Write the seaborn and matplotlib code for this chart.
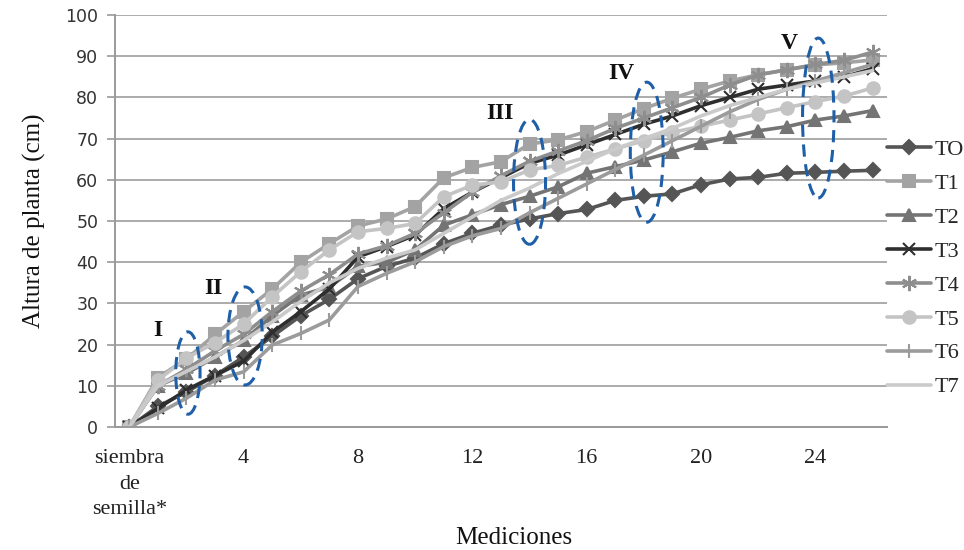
import seaborn as sns
import pandas as pd
import matplotlib
matplotlib.use('Agg')
import matplotlib.pyplot as plt
from matplotlib.patches import Ellipse

# mediciones: 0 = siembra de semilla, luego 1..26
mediciones = list(range(27))
etiquetas_x = {0: 'siembra\nde\nsemilla*', 4: '4', 8: '8', 12: '12', 16: '16', 20: '20', 24: '24'}

TO = [0, 5, 8.5, 12.5, 17, 22, 27, 31, 36, 39, 41, 44.5, 47, 49, 50.5, 51.8, 52.8, 55, 56, 56.6,
      58.8, 60.2, 60.6, 61.6, 61.8, 62.1, 62.3]
T1 = [0, 12, 16.5, 22.5, 28, 33.5, 40, 44.5, 48.8, 50.5, 53.5, 60.5, 63, 64.4, 68.7, 69.7, 71.7,
      74.5, 77.3, 79.8, 82, 84, 85.5, 86.7, 87.9, 88.4, 89.1]
T2 = [0, 10, 13, 17, 21, 27, 32, 34, 39, 40, 43, 49, 51.5, 54, 56, 58.3, 61.6, 63.2, 64.8, 66.8,
      68.9, 70.3, 71.9, 72.9, 74.5, 75.5, 76.8]
T3 = [0, 4.5, 9, 12.5, 16, 23, 28, 33.5, 41.3, 43.8, 46.6, 53, 57, 60.5, 64, 66, 68.5, 71, 73.5,
      75.5, 78, 80, 82, 83, 84, 85, 87]
T4 = [0, 10, 14, 18.5, 22.5, 28, 33, 37, 42, 44, 47, 52, 57, 61, 64.5, 67, 69.5, 72.5, 75, 77.5,
      80, 83, 85.5, 86.7, 88, 89, 91]
T5 = [0, 11.4, 16.7, 20.5, 25, 31.6, 37.7, 43, 47.4, 48.2, 49.4, 55.9, 58.7, 59.5, 62.4, 63.5,
      65.5, 67.5, 69.5, 71.5, 73, 74.5, 76, 77.5, 79, 80.3, 82.3]
T6 = [0, 3.3, 7, 11.4, 13.4, 19.9, 22.7, 26, 34.1, 37.3, 40.1, 43.8, 46.4, 48.2, 52, 55.5, 59, 62.5,
      66, 69.5, 73, 76.5, 79.5, 82, 84, 86, 88]
T7 = [0, 10, 13.5, 17, 21, 25.5, 30.5, 35, 38.5, 41, 43, 47, 51, 55, 58, 61.5, 64.5, 67.5, 70,
      72.5, 75.5, 78, 80, 82, 83.5, 85, 86.5]

series = {'TO': TO, 'T1': T1, 'T2': T2, 'T3': T3, 'T4': T4, 'T5': T5, 'T6': T6, 'T7': T7}

# estilo de cada tratamiento (color, marcador, tamaño)
estilos = {
    'TO': ('#555555', 'D', 7),
    'T1': ('#a3a3a3', 's', 8),
    'T2': ('#747474', '^', 8),
    'T3': ('#2e2e2e', 'x', 8),
    'T4': ('#8e8e8e', (6, 2, 0), 11),
    'T5': ('#c4c4c4', 'o', 9),
    'T6': ('#9b9b9b', '|', 10),
    'T7': ('#cacaca', None, 0),
}

# elipses: (x, y, ancho, alto) en unidades de datos y su etiqueta
elipses = [(2.05, 13.1, 0.85, 20, 'I', 0.98, 23.5),
           (4.05, 22.1, 1.2, 23.8, 'II', 2.95, 33.7),
           (14.0, 59.5, 1.12, 30.3, 'III', 12.97, 76.2),
           (18.1, 66.7, 1.15, 34, 'IV', 17.2, 85.9),
           (24.1, 75.0, 1.1, 38.8, 'V', 23.1, 93.2)]

sns.set_theme(style='white')
plt.rcParams['font.family'] = ['Liberation Serif', 'DejaVu Serif']

fig = plt.figure(figsize=(9.64, 5.5), dpi=100)
ax = fig.add_axes([0.1193, 0.2236, 0.8007, 0.7491])

df = pd.DataFrame(series)
df['Mediciones'] = mediciones

for nombre, valores in series.items():
    color, marcador, tam = estilos[nombre]
    sns.lineplot(x='Mediciones', y=nombre, data=df, ax=ax, color=color, lw=2.6,
                 marker=marcador, markersize=tam, markeredgecolor=color, markeredgewidth=1.5,
                 label=nombre)

for x, y, w, h, txt, tx, ty in elipses:
    ax.add_patch(Ellipse((x, y), w, h, fill=False, ec='#1f5fa8', lw=2.2, ls=(0, (4, 2.5)),
                         zorder=10))
    ax.text(tx, ty, txt, fontsize=17, fontweight='bold', ha='center', va='center', color='#111111')

ax.set_xlim(-0.5, 26.5)
ax.set_ylim(0, 100)
ax.set_yticks(range(0, 101, 10))
ax.set_yticklabels([str(v) for v in range(0, 101, 10)], family='DejaVu Sans', fontsize=12.5,
                   color='#333333')
ax.set_xticks(list(etiquetas_x.keys()))
ax.set_xticklabels(list(etiquetas_x.values()), fontsize=16, color='#222222', linespacing=1.45)
ax.set_xticks([i - 0.5 for i in range(28)], minor=True)
ax.tick_params(axis='x', which='major', length=0, pad=16)
ax.tick_params(axis='x', which='minor', length=5, width=1.2, color='#9a9a9a', direction='out')
ax.tick_params(axis='y', length=6, width=1.2, color='#9a9a9a', direction='out', pad=6, left=True)

ax.grid(axis='y', color='#ababab', lw=1.4)
ax.grid(axis='x', visible=False)
for lado in ['top', 'right']:
    ax.spines[lado].set_visible(False)
for lado in ['left', 'bottom']:
    ax.spines[lado].set_color('#9a9a9a')
    ax.spines[lado].set_linewidth(1.4)

ax.set_xlabel('')
fig.text(0.533, 0.022, 'Mediciones', fontsize=18, ha='center', va='center', color='#111111')
ax.set_ylabel('Altura de planta (cm)', fontsize=18, labelpad=14, color='#111111')

ax.legend(loc='center left', bbox_to_anchor=(1.0, 0.385), frameon=False, fontsize=16,
          handlelength=2.0, handletextpad=0.15, labelspacing=0.6, borderaxespad=0, borderpad=0)

plt.savefig('out.png', dpi=100)
